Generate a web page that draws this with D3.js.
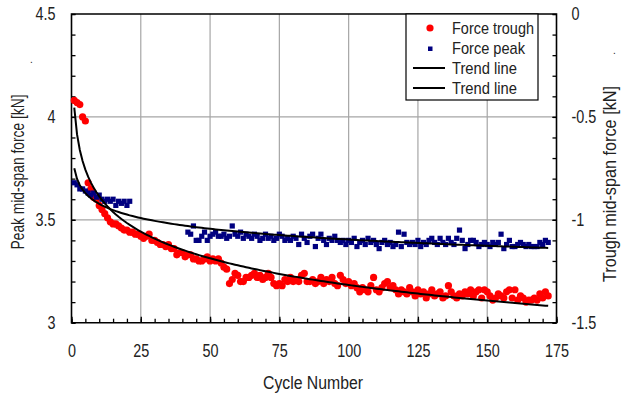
<!DOCTYPE html>
<html>
<head>
<meta charset="utf-8">
<script src="https://cdnjs.cloudflare.com/ajax/libs/d3/7.8.5/d3.min.js"></script>
<style>
  body { margin: 0; background: #fff; }
  svg text { font-family: "Liberation Sans Narrow", "Arial Narrow", "Liberation Sans", sans-serif; fill: #222; }
</style>
</head>
<body>
<svg id="chart" width="621" height="396"></svg>
<script>
// cycle numbers for each series
var peakCycles = d3.range(1, 22).concat(d3.range(42, 173));
var troughCycles = d3.range(1, 173);

// peak mid-span force [kN], left axis
var peakValues = [
    3.68, 3.67, 3.65, 3.65, 3.64, 3.63, 3.62, 3.63, 3.61, 3.62, 3.60, 3.59, 3.60, 3.59, 3.60, 3.57, 3.59, 3.58, 3.59, 3.57, 3.59,
    3.44, 3.43, 3.47, 3.40, 3.40, 3.42, 3.44, 3.40, 3.42, 3.43, 3.44, 3.42, 3.42, 3.43, 3.41, 3.42, 3.47, 3.43, 3.42,
    3.44, 3.41, 3.43, 3.42, 3.41, 3.43, 3.42, 3.40, 3.41, 3.43, 3.41, 3.42, 3.40, 3.41, 3.43, 3.42, 3.40, 3.41, 3.40,
    3.42, 3.41, 3.38, 3.43, 3.41, 3.39, 3.42, 3.43, 3.37, 3.41, 3.43, 3.40, 3.38, 3.41, 3.40, 3.42, 3.40, 3.39, 3.40,
    3.38, 3.40, 3.39, 3.41, 3.37, 3.39, 3.40, 3.38, 3.41, 3.39, 3.40, 3.38, 3.36, 3.39, 3.40, 3.38, 3.39, 3.37, 3.38,
    3.44, 3.37, 3.43, 3.39, 3.38, 3.39, 3.38, 3.40, 3.37, 3.39, 3.38, 3.40, 3.41, 3.39, 3.38, 3.41, 3.39, 3.38, 3.41,
    3.39, 3.38, 3.41, 3.45, 3.40, 3.36, 3.38, 3.40, 3.40, 3.39, 3.37, 3.38, 3.39, 3.38, 3.37, 3.39, 3.38, 3.39, 3.43,
    3.36, 3.38, 3.40, 3.37, 3.37, 3.38, 3.39, 3.38, 3.37, 3.38, 3.37, 3.37, 3.37, 3.39, 3.38, 3.40, 3.39
];

// trough mid-span force [kN], right axis
var troughValues = [
    -0.42, -0.43, -0.44, -0.50, -0.52, -0.82, -0.85, -0.89, -0.90, -0.93, -0.95, -0.97, -0.99, -1.01, -1.02, -1.02,
    -1.03, -1.04, -1.05, -1.05, -1.06, -1.06, -1.07, -1.07, -1.08, -1.09, -1.08, -1.07, -1.10, -1.10, -1.11, -1.12,
    -1.12, -1.13, -1.12, -1.14, -1.14, -1.17, -1.16, -1.16, -1.18, -1.17, -1.17, -1.19, -1.19, -1.20, -1.20, -1.19,
    -1.18, -1.20, -1.19, -1.20, -1.19, -1.21, -1.23, -1.24, -1.31, -1.29, -1.26, -1.27, -1.30, -1.30, -1.28, -1.28,
    -1.27, -1.26, -1.28, -1.27, -1.29, -1.28, -1.26, -1.28, -1.31, -1.32, -1.31, -1.32, -1.29, -1.30, -1.28, -1.30,
    -1.29, -1.30, -1.27, -1.26, -1.30, -1.30, -1.29, -1.31, -1.30, -1.28, -1.31, -1.29, -1.30, -1.28, -1.31, -1.32,
    -1.27, -1.29, -1.31, -1.30, -1.32, -1.31, -1.33, -1.35, -1.33, -1.34, -1.35, -1.32, -1.28, -1.34, -1.35, -1.33,
    -1.31, -1.30, -1.33, -1.32, -1.34, -1.36, -1.34, -1.35, -1.36, -1.33, -1.35, -1.37, -1.34, -1.36, -1.35, -1.38,
    -1.36, -1.34, -1.37, -1.36, -1.35, -1.38, -1.37, -1.32, -1.35, -1.37, -1.38, -1.36, -1.37, -1.35, -1.36, -1.34,
    -1.37, -1.35, -1.34, -1.38, -1.34, -1.35, -1.37, -1.39, -1.38, -1.36, -1.37, -1.38, -1.35, -1.34, -1.38, -1.34,
    -1.39, -1.37, -1.38, -1.40, -1.39, -1.39, -1.38, -1.39, -1.36, -1.38, -1.35, -1.37
];

var xTicks = [0, 25, 50, 75, 100, 125, 150, 175];
var leftTicks = [3, 3.5, 4, 4.5];
var rightTicks = [-1.5, -1, -0.5, 0];
var legendLabels = ["Force trough", "Force peak", "Trend line", "Trend line"];

var svg = d3.select("#chart");
var margin = {left: 71.5, right: 556.5, top: 14, bottom: 322.7};

var x = d3.scaleLinear().domain([0, 175]).range([margin.left, margin.right]);
var yL = d3.scaleLinear().domain([3, 4.5]).range([margin.bottom, margin.top]);
var yR = d3.scaleLinear().domain([-1.5, 0]).range([margin.bottom, margin.top]);

// excel style logarithmic trend line
function logFit(xs, ys){
    var lx = xs.map(Math.log);
    var mx = d3.mean(lx), my = d3.mean(ys);
    var sxy = d3.sum(lx, function(d, i){ return (d - mx) * (ys[i] - my) });
    var sxx = d3.sum(lx, function(d){ return (d - mx) * (d - mx) });
    var b = sxy / sxx;
    var a = my - b * mx;
    return function(c){ return a + b * Math.log(c) };
}

// narrow font is missing, squeeze the text sideways instead
function condense(sel, k){
    sel.each(function(){
        var t = d3.select(this);
        var tx = +t.attr("x") || 0;
        t.attr("transform", "translate(" + tx + ",0) scale(" + k + ",1) translate(" + (-tx) + ",0)");
    });
}

// grid
svg.append("g").selectAll("line").data(xTicks.slice(1, -1)).enter().append("line")
    .attr("x1", function(d){ return x(d) }).attr("x2", function(d){ return x(d) })
    .attr("y1", margin.top).attr("y2", margin.bottom)
    .attr("stroke", "#a6a6a6").attr("stroke-width", 1.2);
svg.append("g").selectAll("line").data([3.5, 4]).enter().append("line")
    .attr("x1", margin.left).attr("x2", margin.right)
    .attr("y1", function(d){ return yL(d) }).attr("y2", function(d){ return yL(d) })
    .attr("stroke", "#a6a6a6").attr("stroke-width", 1.2);

// axes
function styleAxis(g){
    g.select(".domain").remove();
    g.selectAll("line").attr("stroke", "#000").attr("stroke-width", 1.3);
    g.selectAll("text").attr("font-size", 18).attr("fill", "#222").call(condense, 0.8);
}
svg.append("g").attr("transform", "translate(" + margin.left + ",0)")
    .call(d3.axisLeft(yL).tickValues(d3.range(30, 46).map(function(d){ return d / 10 })).tickSize(-4).tickFormat(""))
    .call(styleAxis);
svg.append("g").attr("transform", "translate(" + margin.left + ",0)")
    .call(d3.axisLeft(yL).tickValues(leftTicks).tickSize(-4).tickPadding(16).tickFormat(String))
    .call(styleAxis);
svg.append("g").attr("transform", "translate(" + margin.right + ",0)")
    .call(d3.axisRight(yR).tickValues(d3.range(-15, 1).map(function(d){ return d / 10 })).tickSize(-4).tickFormat(""))
    .call(styleAxis);
svg.append("g").attr("transform", "translate(" + margin.right + ",0)")
    .call(d3.axisRight(yR).tickValues(rightTicks).tickSize(-4).tickPadding(15).tickFormat(String))
    .call(styleAxis);
svg.append("g").attr("transform", "translate(0," + margin.bottom + ")")
    .call(d3.axisBottom(x).tickValues(d3.range(0, 176, 5)).tickSize(-4).tickFormat(""))
    .call(styleAxis);
svg.append("g").attr("transform", "translate(0," + margin.bottom + ")")
    .call(d3.axisBottom(x).tickValues(xTicks).tickSize(-6).tickPadding(22).tickFormat(String))
    .call(styleAxis);

// frame
svg.append("path")
    .attr("d", "M" + margin.left + "," + margin.bottom + "V" + margin.top + "H" + margin.right + "V" + margin.bottom + "Z")
    .attr("fill", "none").attr("stroke", "#000").attr("stroke-width", 1.6);

// data
svg.append("g").selectAll("circle").data(troughValues).enter().append("circle")
    .attr("cx", function(d, i){ return x(troughCycles[i]) })
    .attr("cy", function(d){ return yR(d) })
    .attr("r", 3.6)
    .attr("fill", "#ff0000");
svg.append("g").selectAll("rect").data(peakValues).enter().append("rect")
    .attr("x", function(d, i){ return x(peakCycles[i]) - 2.6 })
    .attr("y", function(d){ return yL(d) - 2.6 })
    .attr("width", 5.2).attr("height", 5.2)
    .attr("fill", "#000080");

// trend lines
var trendX = d3.range(1, 173);
var troughFit = logFit(troughCycles, troughValues);
var peakFit = logFit(peakCycles, peakValues);
svg.append("path").datum(trendX)
    .attr("d", d3.line().x(function(d){ return x(d) }).y(function(d){ return yR(troughFit(d)) }))
    .attr("fill", "none").attr("stroke", "#000").attr("stroke-width", 2);
svg.append("path").datum(trendX)
    .attr("d", d3.line().x(function(d){ return x(d) }).y(function(d){ return yL(peakFit(d)) }))
    .attr("fill", "none").attr("stroke", "#000").attr("stroke-width", 2);

// legend
var legendWidths = [82, 73, 65, 65];
var legend = svg.append("g");
legend.append("rect").attr("x", 406).attr("y", 14).attr("width", 132).attr("height", 86)
    .attr("fill", "#fff").attr("stroke", "#000").attr("stroke-width", 1.2);
var rows = legend.selectAll("g").data(legendLabels).enter().append("g")
    .attr("transform", function(d, i){ return "translate(0," + (28 + i * 20) + ")" });
rows.append("text").attr("x", 452).attr("y", 5.5).attr("font-size", 17)
    .attr("textLength", function(d, i){ return legendWidths[i] }).attr("lengthAdjust", "spacingAndGlyphs")
    .text(function(d){ return d });
rows.filter(function(d, i){ return i == 0 }).append("circle").attr("cx", 430).attr("cy", 0).attr("r", 3.6).attr("fill", "#ff0000");
rows.filter(function(d, i){ return i == 1 }).append("rect").attr("x", 428).attr("y", -1.5).attr("width", 4.5).attr("height", 4.5).attr("fill", "#000080");
rows.filter(function(d, i){ return i > 1 }).append("line").attr("x1", 413).attr("x2", 445).attr("y1", 0).attr("y2", 0)
    .attr("stroke", "#000").attr("stroke-width", 2);

// titles
svg.append("text").attr("x", 313).attr("y", 389).attr("text-anchor", "middle").attr("font-size", 18)
    .attr("textLength", 100).attr("lengthAdjust", "spacingAndGlyphs").text("Cycle Number");
svg.append("text").attr("transform", "translate(24,172) rotate(-90)").attr("text-anchor", "middle").attr("font-size", 18)
    .attr("textLength", 155).attr("lengthAdjust", "spacingAndGlyphs").text("Peak mid-span force [kN]");
svg.append("text").attr("transform", "translate(616,184) rotate(-90)").attr("text-anchor", "middle").attr("font-size", 18)
    .attr("textLength", 196).attr("lengthAdjust", "spacingAndGlyphs").text("Trough mid-span force [kN]");
svg.append("text").attr("x", 30).attr("y", 63).attr("font-size", 10).text(".");
svg.append("text").attr("x", 613).attr("y", 54).attr("font-size", 10).text(".");
</script>
</body>
</html>
